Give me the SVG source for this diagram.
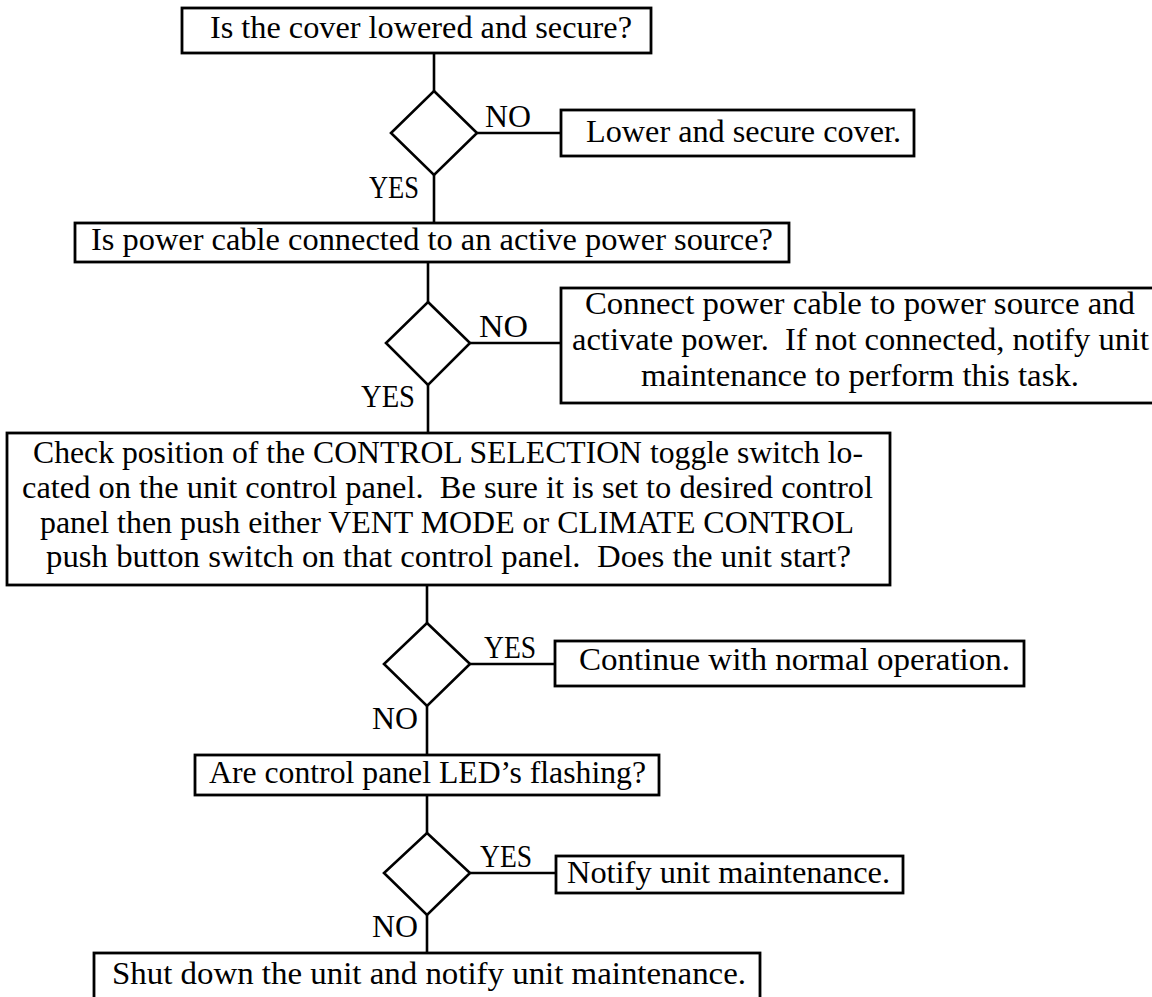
<svg xmlns="http://www.w3.org/2000/svg" width="1152" height="997" viewBox="0 0 1152 997">
<style>
.box{fill:#fff;stroke:#000;stroke-width:2.8}
.dia{fill:#fff;stroke:#000;stroke-width:2.6}
.ln{stroke:#000;stroke-width:2.6;fill:none}
text{font-family:"Liberation Serif","Times New Roman",serif;font-size:32px;fill:#000;white-space:pre}
</style>
<rect width="1152" height="997" fill="#fff"/>
<g id="connectors">
<line class="ln" x1="434" y1="53" x2="434" y2="91"/>
<line class="ln" x1="477" y1="133" x2="561" y2="133"/>
<line class="ln" x1="434" y1="175" x2="434" y2="223"/>
<line class="ln" x1="428" y1="262" x2="428" y2="302"/>
<line class="ln" x1="470" y1="343" x2="561" y2="343"/>
<line class="ln" x1="428" y1="385" x2="428" y2="433"/>
<line class="ln" x1="427" y1="585" x2="427" y2="623"/>
<line class="ln" x1="470" y1="664" x2="555" y2="664"/>
<line class="ln" x1="427" y1="706" x2="427" y2="755"/>
<line class="ln" x1="427" y1="795" x2="427" y2="833"/>
<line class="ln" x1="470" y1="873" x2="556" y2="873"/>
<line class="ln" x1="427" y1="915" x2="427" y2="953"/>
<text x="485" y="127" textLength="46" lengthAdjust="spacingAndGlyphs">NO</text>
<text x="369" y="198" textLength="50" lengthAdjust="spacingAndGlyphs">YES</text>
<text x="479" y="337" textLength="49" lengthAdjust="spacingAndGlyphs">NO</text>
<text x="361" y="407" textLength="54" lengthAdjust="spacingAndGlyphs">YES</text>
<text x="484" y="658" textLength="52" lengthAdjust="spacingAndGlyphs">YES</text>
<text x="372" y="729" textLength="46" lengthAdjust="spacingAndGlyphs">NO</text>
<text x="480" y="867" textLength="52" lengthAdjust="spacingAndGlyphs">YES</text>
<text x="372" y="937" textLength="46" lengthAdjust="spacingAndGlyphs">NO</text>
</g>
<g id="q1">
<rect class="box" x="182" y="8" width="469" height="45"/>
<text x="210" y="38" textLength="422" lengthAdjust="spacingAndGlyphs">Is the cover lowered and secure?</text>
</g>
<g id="d1"><polygon class="dia" points="434,91 477,133 434,175 391,133"/></g>
<g id="a1">
<rect class="box" x="561" y="110" width="353" height="46"/>
<text x="586" y="142" textLength="315" lengthAdjust="spacingAndGlyphs">Lower and secure cover.</text>
</g>
<g id="q2">
<rect class="box" x="75" y="223" width="714" height="39"/>
<text x="91" y="250" textLength="682" lengthAdjust="spacingAndGlyphs">Is power cable connected to an active power source?</text>
</g>
<g id="d2"><polygon class="dia" points="428,302 470,343 428,385 386,343"/></g>
<g id="a2">
<rect class="box" x="561" y="288" width="600" height="115"/>
<text x="585" y="314" textLength="550" lengthAdjust="spacingAndGlyphs">Connect power cable to power source and</text>
<text x="572" y="350" textLength="577" lengthAdjust="spacingAndGlyphs" xml:space="preserve">activate power.  If not connected, notify unit</text>
<text x="641" y="386" textLength="438" lengthAdjust="spacingAndGlyphs">maintenance to perform this task.</text>
</g>
<g id="q3">
<rect class="box" x="7" y="433" width="883" height="152"/>
<text x="33" y="463" textLength="830" lengthAdjust="spacingAndGlyphs">Check position of the CONTROL SELECTION toggle switch lo-</text>
<text x="22" y="498" textLength="851" lengthAdjust="spacingAndGlyphs" xml:space="preserve">cated on the unit control panel.  Be sure it is set to desired control</text>
<text x="40" y="533" textLength="814" lengthAdjust="spacingAndGlyphs">panel then push either VENT MODE or CLIMATE CONTROL</text>
<text x="46" y="567" textLength="805" lengthAdjust="spacingAndGlyphs" xml:space="preserve">push button switch on that control panel.  Does the unit start?</text>
</g>
<g id="d3"><polygon class="dia" points="427,623 470,664 427,706 384,664"/></g>
<g id="a3">
<rect class="box" x="555" y="641" width="469" height="45"/>
<text x="579" y="670" textLength="431" lengthAdjust="spacingAndGlyphs">Continue with normal operation.</text>
</g>
<g id="q4">
<rect class="box" x="195" y="755" width="464" height="40"/>
<text x="209" y="783" textLength="437" lengthAdjust="spacingAndGlyphs">Are control panel LED’s flashing?</text>
</g>
<g id="d4"><polygon class="dia" points="427,833 470,873 427,915 384,873"/></g>
<g id="a4">
<rect class="box" x="556" y="856" width="347" height="37"/>
<text x="567" y="883" textLength="323" lengthAdjust="spacingAndGlyphs">Notify unit maintenance.</text>
</g>
<g id="a5">
<rect class="box" x="94" y="953" width="666" height="60"/>
<text x="112" y="984" textLength="634" lengthAdjust="spacingAndGlyphs">Shut down the unit and notify unit maintenance.</text>
</g>
</svg>
